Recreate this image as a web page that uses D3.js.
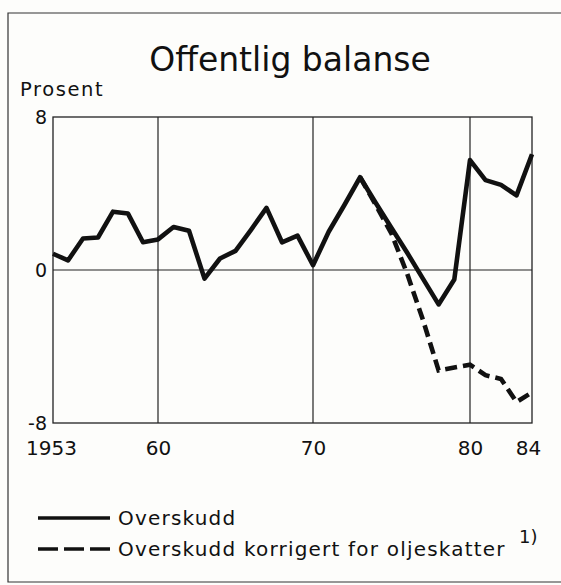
<!DOCTYPE html>
<html lang="no">
<head>
    <meta charset="UTF-8">
    <title>Offentlig balanse</title>
    <script src="https://d3js.org/d3.v7.min.js" charset="utf-8"></script>
    <style>
        body { margin: 0; background: #fff; }
        svg { background: #fdfdfb; }
        text { font-family: 'DejaVu Sans', sans-serif; fill: #111; }
    </style>
</head>
<body>
    <div id="chart"></div>
    <script>
        // Data (prosent)
        var years = [1953, 1954, 1955, 1956, 1957, 1958, 1959, 1960, 1961, 1962,
                     1963, 1964, 1965, 1966, 1967, 1968, 1969, 1970, 1971, 1972,
                     1973, 1974, 1975, 1976, 1977, 1978, 1979, 1980, 1981, 1982,
                     1983, 1984];
        var overskudd = [0.85, 0.5, 1.65, 1.7, 3.05, 2.95, 1.45, 1.6, 2.25, 2.05,
                         -0.45, 0.6, 1.0, 2.1, 3.25, 1.45, 1.8, 0.25, 2.0, 3.4,
                         4.85, 3.5, 2.2, 0.9, -0.45, -1.8, -0.5, 5.75, 4.7, 4.45,
                         3.9, 6.05];
        var korrYears = [1973, 1974, 1975, 1976, 1977, 1978, 1979, 1980, 1981, 1982, 1983, 1984];
        var korrigert = [4.85, 3.4, 1.9, -0.2, -2.6, -5.25, -5.1, -4.95, -5.5, -5.7, -6.9, -6.4];

        var yTicks = [-8, 0, 8];
        var xTicks = [1953, 1960, 1970, 1980, 1984];
        var xTickLabels = ['1953', '60', '70', '80', '84'];
        var gridYears = [1960, 1970, 1980];

        var width = 561, height = 585;

        var svg = d3.select('#chart').append('svg')
                    .attr('width', width)
                    .attr('height', height);

        // the printed axis is not quite even, so the scale is piecewise
        var x = d3.scaleLinear()
                  .domain([1953, 1960, 1970, 1980, 1984])
                  .range([53, 158, 313, 470, 532]);
        var y = d3.scaleLinear()
                  .domain([-8, 8])
                  .range([423, 117]);

        // outer frame (top, left, bottom)
        svg.append('path')
           .attr('d', 'M561,13H8V582H561')
           .attr('fill', 'none')
           .attr('stroke', '#333')
           .attr('stroke-width', 1.2);

        // title
        svg.append('text')
           .attr('x', 290).attr('y', 71)
           .attr('text-anchor', 'middle')
           .style('font-size', '33px')
           .text('Offentlig balanse');

        svg.append('text')
           .attr('x', 20).attr('y', 96)
           .style('font-size', '19.5px')
           .style('letter-spacing', '1.6px')
           .text('Prosent');

        // plot box
        svg.append('rect')
           .attr('x', x(1953)).attr('y', y(8))
           .attr('width', x(1984) - x(1953))
           .attr('height', y(-8) - y(8))
           .attr('fill', 'none')
           .attr('stroke', '#222')
           .attr('stroke-width', 1.3);

        // grid
        svg.selectAll('.vgrid').data(gridYears).enter().append('line')
           .attr('class', 'vgrid')
           .attr('x1', d => x(d)).attr('x2', d => x(d))
           .attr('y1', y(8)).attr('y2', y(-8))
           .attr('stroke', '#222').attr('stroke-width', 1.2);

        svg.append('line')
           .attr('x1', x(1953)).attr('x2', x(1984))
           .attr('y1', y(0)).attr('y2', y(0))
           .attr('stroke', '#222').attr('stroke-width', 1.2);

        // axes (labels only)
        var yAxis = d3.axisLeft(y).tickValues(yTicks).tickSize(0).tickPadding(6)
                      .tickFormat(d => d);
        var gy = svg.append('g')
                    .attr('transform', 'translate(' + x(1953) + ',0)')
                    .call(yAxis);
        gy.select('.domain').remove();
        gy.selectAll('text').style('font-size', '19px').style('font-family', 'DejaVu Sans');

        var xAxis = d3.axisBottom(x).tickValues(xTicks).tickSize(0).tickPadding(18)
                      .tickFormat((d, i) => xTickLabels[i]);
        var gx = svg.append('g')
                    .attr('transform', 'translate(0,' + y(-8) + ')')
                    .call(xAxis);
        gx.select('.domain').remove();
        gx.selectAll('text').style('font-size', '20px').style('font-family', 'DejaVu Sans')
          .attr('dx', (d, i) => i === 0 ? -2 : (i === 4 ? -4 : 0));

        // lines
        var line = d3.line().x(d => x(d[0])).y(d => y(d[1]));

        svg.append('path')
           .datum(korrYears.map((yr, i) => [yr, korrigert[i]]))
           .attr('d', line)
           .attr('fill', 'none')
           .attr('stroke', '#111')
           .attr('stroke-width', 4.6)
           .attr('stroke-dasharray', '12,6');

        svg.append('path')
           .datum(years.map((yr, i) => [yr, overskudd[i]]))
           .attr('d', line)
           .attr('fill', 'none')
           .attr('stroke', '#111')
           .attr('stroke-width', 4.6)
           .attr('stroke-linejoin', 'round');

        // legend
        var legend = [
            { label: 'Overskudd', dash: null, y: 518 },
            { label: 'Overskudd korrigert for oljeskatter', dash: '20,6', y: 549 }
        ];
        var lg = svg.selectAll('.legend').data(legend).enter().append('g')
                    .attr('class', 'legend')
                    .attr('transform', d => 'translate(0,' + d.y + ')');
        lg.append('line')
          .attr('x1', 38).attr('x2', 110)
          .attr('stroke', '#111').attr('stroke-width', 3.6)
          .attr('stroke-dasharray', d => d.dash);
        lg.append('text')
          .attr('x', 118).attr('y', 7)
          .style('font-size', '20px')
          .style('letter-spacing', '1.2px')
          .text(d => d.label);

        svg.append('text')
           .attr('x', 519).attr('y', 543)
           .style('font-size', '18px')
           .text('1)');
    </script>
</body>
</html>
